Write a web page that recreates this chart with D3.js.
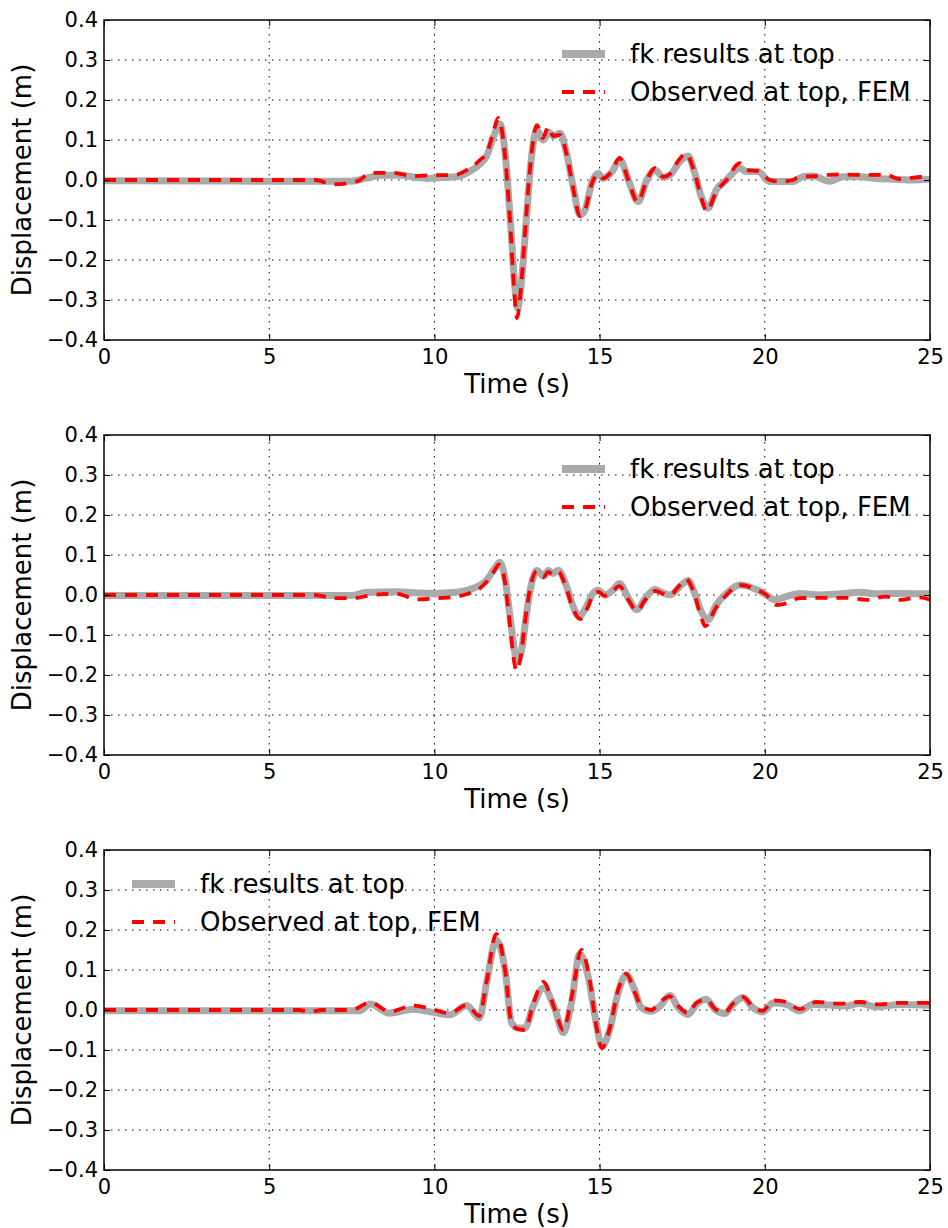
<!DOCTYPE html>
<html>
<head>
  <meta charset="utf-8">
  <script src="https://cdn.jsdelivr.net/npm/d3@7"></script>
  <style>
    body { margin: 0; background: #fff; }
    text { font-family: "DejaVu Sans", sans-serif; fill: #000; }
  </style>
</head>
<body>
<script type="text/javascript">
  // time axis and displacement axis ticks
  var xTicks = [0, 5, 10, 15, 20, 25];
  var yTicks = [-0.4, -0.3, -0.2, -0.1, 0.0, 0.1, 0.2, 0.3, 0.4];
  var legendLabels = ["fk results at top", "Observed at top, FEM"];

  // [time (s), displacement (m)]
  var p1Fk = [[0,-0.002],[6.5,-0.003],[7.5,-0.003],[7.9,0.004],[8.45,0.012],[8.96,0.012],[9.4,0.007],[9.76,0.004],[10.2,0.006],[10.67,0.008],[11.08,0.022],[11.38,0.04],[11.58,0.06],[11.83,0.117],[11.98,0.14],[12.13,0.075],[12.29,-0.09],[12.44,-0.27],[12.52,-0.32],[12.64,-0.25],[12.79,-0.09],[12.94,0.058],[13.1,0.125],[13.3,0.10],[13.45,0.12],[13.6,0.11],[13.8,0.117],[14.0,0.067],[14.2,-0.017],[14.4,-0.087],[14.56,-0.075],[14.76,-0.008],[14.96,0.017],[15.1,0.004],[15.37,0.02],[15.62,0.05],[15.87,0.0],[16.17,-0.054],[16.43,0.0],[16.68,0.025],[16.93,0.006],[17.13,0.012],[17.43,0.046],[17.68,0.06],[17.88,0.017],[18.08,-0.042],[18.28,-0.07],[18.53,-0.025],[18.84,0.0],[19.24,0.03],[19.44,0.021],[19.8,0.021],[20.15,-0.004],[20.45,-0.004],[20.85,-0.004],[21.15,0.008],[21.45,0.01],[21.96,-0.003],[22.36,0.008],[22.87,0.008],[23.37,0.004],[23.88,0.002],[24.48,0.0],[25,0.002]];
  var p1Fem = [[0,0],[6.4,0],[6.94,-0.011],[7.44,-0.007],[7.75,0.0],[8.05,0.018],[8.75,0.018],[9.36,0.01],[9.97,0.012],[10.57,0.012],[10.98,0.025],[11.38,0.05],[11.6,0.07],[11.8,0.125],[11.93,0.155],[12.1,0.09],[12.28,-0.09],[12.42,-0.28],[12.5,-0.345],[12.62,-0.27],[12.77,-0.1],[12.92,0.05],[13.1,0.137],[13.28,0.105],[13.45,0.133],[13.6,0.11],[13.8,0.113],[14.0,0.065],[14.2,-0.02],[14.4,-0.09],[14.56,-0.075],[14.76,-0.01],[14.96,0.015],[15.1,0.004],[15.37,0.022],[15.6,0.055],[15.87,0.0],[16.15,-0.055],[16.43,0.0],[16.68,0.03],[16.93,0.008],[17.13,0.015],[17.4,0.05],[17.6,0.066],[17.88,0.017],[18.08,-0.045],[18.24,-0.078],[18.53,-0.03],[18.84,0.0],[19.24,0.042],[19.44,0.025],[19.8,0.022],[20.15,0.0],[20.45,-0.004],[20.85,0.0],[21.05,0.008],[21.6,0.01],[22.26,0.014],[22.87,0.013],[23.67,0.013],[24.08,0.002],[24.5,0.006],[25,0.01]];

  var p2Fk = [[0,-0.001],[7.5,-0.001],[7.9,0.006],[8.9,0.008],[9.5,0.005],[10.0,0.004],[10.58,0.006],[11.08,0.014],[11.58,0.037],[11.83,0.067],[11.97,0.081],[12.13,0.046],[12.29,-0.054],[12.44,-0.146],[12.52,-0.165],[12.64,-0.137],[12.79,-0.046],[12.94,0.029],[13.1,0.061],[13.3,0.047],[13.45,0.061],[13.6,0.054],[13.75,0.062],[14.0,0.021],[14.2,-0.029],[14.38,-0.054],[14.6,-0.029],[14.8,0.004],[14.96,0.012],[15.16,0.0],[15.4,0.012],[15.6,0.029],[15.87,-0.008],[16.13,-0.037],[16.38,-0.008],[16.68,0.014],[16.9,0.006],[17.13,0.0],[17.43,0.021],[17.68,0.036],[17.88,0.004],[18.08,-0.042],[18.28,-0.062],[18.53,-0.025],[18.84,0.004],[19.24,0.025],[19.74,0.014],[20.05,0.0],[20.3,-0.012],[20.65,-0.004],[21.05,0.004],[21.66,0.0],[22.36,0.003],[22.87,0.007],[23.37,0.003],[24.08,0.004],[25,0.003]];
  var p2Fem = [[0,0],[6.4,0],[6.94,-0.008],[7.5,-0.008],[8.15,0.0],[8.86,0.003],[9.46,-0.011],[10.07,-0.008],[10.67,-0.004],[11.08,0.005],[11.38,0.017],[11.6,0.035],[11.83,0.062],[11.95,0.076],[12.12,0.04],[12.28,-0.07],[12.42,-0.17],[12.49,-0.19],[12.62,-0.15],[12.77,-0.05],[12.92,0.025],[13.1,0.06],[13.3,0.045],[13.45,0.058],[13.6,0.05],[13.75,0.058],[14.0,0.015],[14.2,-0.035],[14.42,-0.06],[14.62,-0.035],[14.8,0.0],[14.96,0.008],[15.16,-0.002],[15.4,0.01],[15.6,0.022],[15.87,-0.012],[16.13,-0.04],[16.38,-0.012],[16.68,0.01],[16.9,0.004],[17.13,0.0],[17.43,0.025],[17.6,0.04],[17.88,0.0],[18.05,-0.05],[18.2,-0.078],[18.5,-0.035],[18.84,0.0],[19.24,0.025],[19.74,0.014],[20.05,0.0],[20.35,-0.025],[20.65,-0.021],[21.05,-0.008],[21.86,-0.007],[22.46,-0.007],[23.07,-0.012],[23.67,-0.004],[24.08,-0.012],[24.68,-0.006],[25,-0.012]];

  var p3Fk = [[0,-0.002],[7.75,-0.002],[8.05,0.015],[8.65,-0.008],[9.36,0.002],[9.97,-0.006],[10.47,-0.012],[10.98,0.011],[11.36,-0.02],[11.58,0.068],[11.87,0.175],[12.14,0.1],[12.34,-0.033],[12.54,-0.045],[12.74,-0.045],[12.99,0.01],[13.3,0.055],[13.65,0.002],[13.9,-0.057],[14.15,0.018],[14.4,0.14],[14.65,0.085],[14.9,-0.033],[15.07,-0.09],[15.31,-0.048],[15.56,0.043],[15.81,0.088],[16.06,0.05],[16.26,0.006],[16.56,-0.003],[16.83,0.01],[17.13,0.036],[17.38,0.006],[17.68,-0.011],[17.93,0.014],[18.23,0.027],[18.48,0.002],[18.79,-0.009],[19.04,0.014],[19.34,0.031],[19.64,0.006],[19.94,-0.005],[20.25,0.018],[20.65,0.014],[21.05,-0.002],[21.45,0.014],[22.06,0.012],[22.46,0.01],[22.87,0.017],[23.37,0.008],[24.08,0.014],[25,0.012]];
  var p3Fem = [[0,0],[5.9,0],[6.24,-0.004],[6.6,0],[7.5,0],[8.05,0.019],[8.65,-0.004],[9.36,0.011],[9.97,0.001],[10.45,-0.008],[10.98,0.012],[11.36,-0.015],[11.58,0.07],[11.87,0.19],[12.14,0.1],[12.34,-0.035],[12.54,-0.048],[12.74,-0.05],[12.99,0.015],[13.3,0.07],[13.65,0.0],[13.9,-0.05],[14.15,0.03],[14.45,0.15],[14.7,0.075],[14.9,-0.04],[15.07,-0.095],[15.31,-0.045],[15.56,0.05],[15.81,0.09],[16.06,0.045],[16.26,0.01],[16.56,0.0],[16.83,0.02],[17.13,0.034],[17.38,0.01],[17.68,-0.008],[17.93,0.018],[18.23,0.026],[18.48,0.004],[18.79,-0.006],[19.04,0.016],[19.34,0.032],[19.64,0.008],[19.94,-0.002],[20.25,0.024],[20.65,0.02],[21.05,0.002],[21.55,0.02],[22.26,0.016],[22.87,0.02],[23.47,0.014],[24.08,0.018],[25,0.018]];

  var panels = [
    {fk: p1Fk, fem: p1Fem, legendX: 562},
    {fk: p2Fk, fem: p2Fem, legendX: 562},
    {fk: p3Fk, fem: p3Fem, legendX: 132}
  ];

  var left = 104, right = 930, plotH = 320, firstTop = 20, step = 415;

  var svg = d3.select("body").append("svg")
    .attr("width", 948)
    .attr("height", 1228);

  var x = d3.scaleLinear().domain([0, 25]).range([0, right - left]);
  var y = d3.scaleLinear().domain([-0.4, 0.4]).range([plotH, 0]);
  var w = right - left;

  var line = d3.line()
    .x(function(d) { return x(d[0]); })
    .y(function(d) { return y(d[1]); })
    .curve(d3.curveMonotoneX);

  panels.forEach(function(p, i) {
    var g = svg.append("g")
      .attr("transform", "translate(" + left + "," + (firstTop + i * step) + ")");

    // dotted grid
    g.append("g").selectAll("line").data(xTicks.slice(1, -1)).enter().append("line")
      .attr("x1", function(d) { return x(d); }).attr("x2", function(d) { return x(d); })
      .attr("y1", 0).attr("y2", plotH)
      .attr("stroke", "#000").attr("stroke-width", 1).attr("stroke-dasharray", "1.5,5.5");
    g.append("g").selectAll("line").data(yTicks.slice(1, -1)).enter().append("line")
      .attr("y1", function(d) { return y(d); }).attr("y2", function(d) { return y(d); })
      .attr("x1", 0).attr("x2", w)
      .attr("stroke", "#000").attr("stroke-width", 1).attr("stroke-dasharray", "1.5,5.5");

    g.append("path").datum(p.fk)
      .attr("d", line)
      .attr("fill", "none")
      .attr("stroke", "#aaaaaa")
      .attr("stroke-width", 7)
      .attr("stroke-linejoin", "round");
    g.append("path").datum(p.fem)
      .attr("d", line)
      .attr("fill", "none")
      .attr("stroke", "#ff0000")
      .attr("stroke-width", 3.8)
      .attr("stroke-dasharray", "12,9");

    // axes with inward ticks on all sides
    var fmt = d3.format(".1f");
    var ax = g.append("g").attr("transform", "translate(0," + plotH + ")")
      .call(d3.axisBottom(x).tickValues(xTicks).tickFormat(d3.format("d"))
        .tickSizeInner(-6).tickSizeOuter(0).tickPadding(9));
    var ay = g.append("g")
      .call(d3.axisLeft(y).tickValues(yTicks).tickFormat(fmt)
        .tickSizeInner(-6).tickSizeOuter(0).tickPadding(6));
    var at = g.append("g")
      .call(d3.axisTop(x).tickValues(xTicks).tickFormat("")
        .tickSizeInner(-6).tickSizeOuter(0));
    var ar = g.append("g").attr("transform", "translate(" + w + ",0)")
      .call(d3.axisRight(y).tickValues(yTicks).tickFormat("")
        .tickSizeInner(-6).tickSizeOuter(0));
    [ax, ay, at, ar].forEach(function(a) {
      a.select(".domain").remove();
      a.selectAll("line").attr("stroke", "#000").attr("stroke-width", 1);
      a.selectAll("text")
        .style("font-family", "DejaVu Sans")
        .style("font-size", "21px")
        .attr("fill", "#000");
    });

    g.append("rect")
      .attr("width", w).attr("height", plotH)
      .attr("fill", "none").attr("stroke", "#000").attr("stroke-width", 1.5);

    g.append("text")
      .attr("x", w / 2).attr("y", plotH + 53)
      .attr("text-anchor", "middle")
      .style("font-size", "26px")
      .text("Time (s)");
    g.append("text")
      .attr("transform", "translate(" + (31 - left) + "," + (plotH / 2) + ") rotate(-90)")
      .attr("text-anchor", "middle")
      .style("font-size", "26px")
      .text("Displacement (m)");

    // legend, no frame
    var lx = p.legendX - left;
    var lg = g.append("g");
    lg.append("line")
      .attr("x1", lx).attr("x2", lx + 43).attr("y1", 34).attr("y2", 34)
      .attr("stroke", "#aaaaaa").attr("stroke-width", 8);
    lg.append("line")
      .attr("x1", lx).attr("x2", lx + 43).attr("y1", 72).attr("y2", 72)
      .attr("stroke", "#ff0000").attr("stroke-width", 3.8).attr("stroke-dasharray", "12,9");
    lg.selectAll("text.leg").data(legendLabels).enter().append("text")
      .attr("class", "leg")
      .attr("x", lx + 68)
      .attr("y", function(d, k) { return 43 + k * 38; })
      .style("font-size", "26px")
      .text(function(d) { return d; });
  });
</script>
</body>
</html>
